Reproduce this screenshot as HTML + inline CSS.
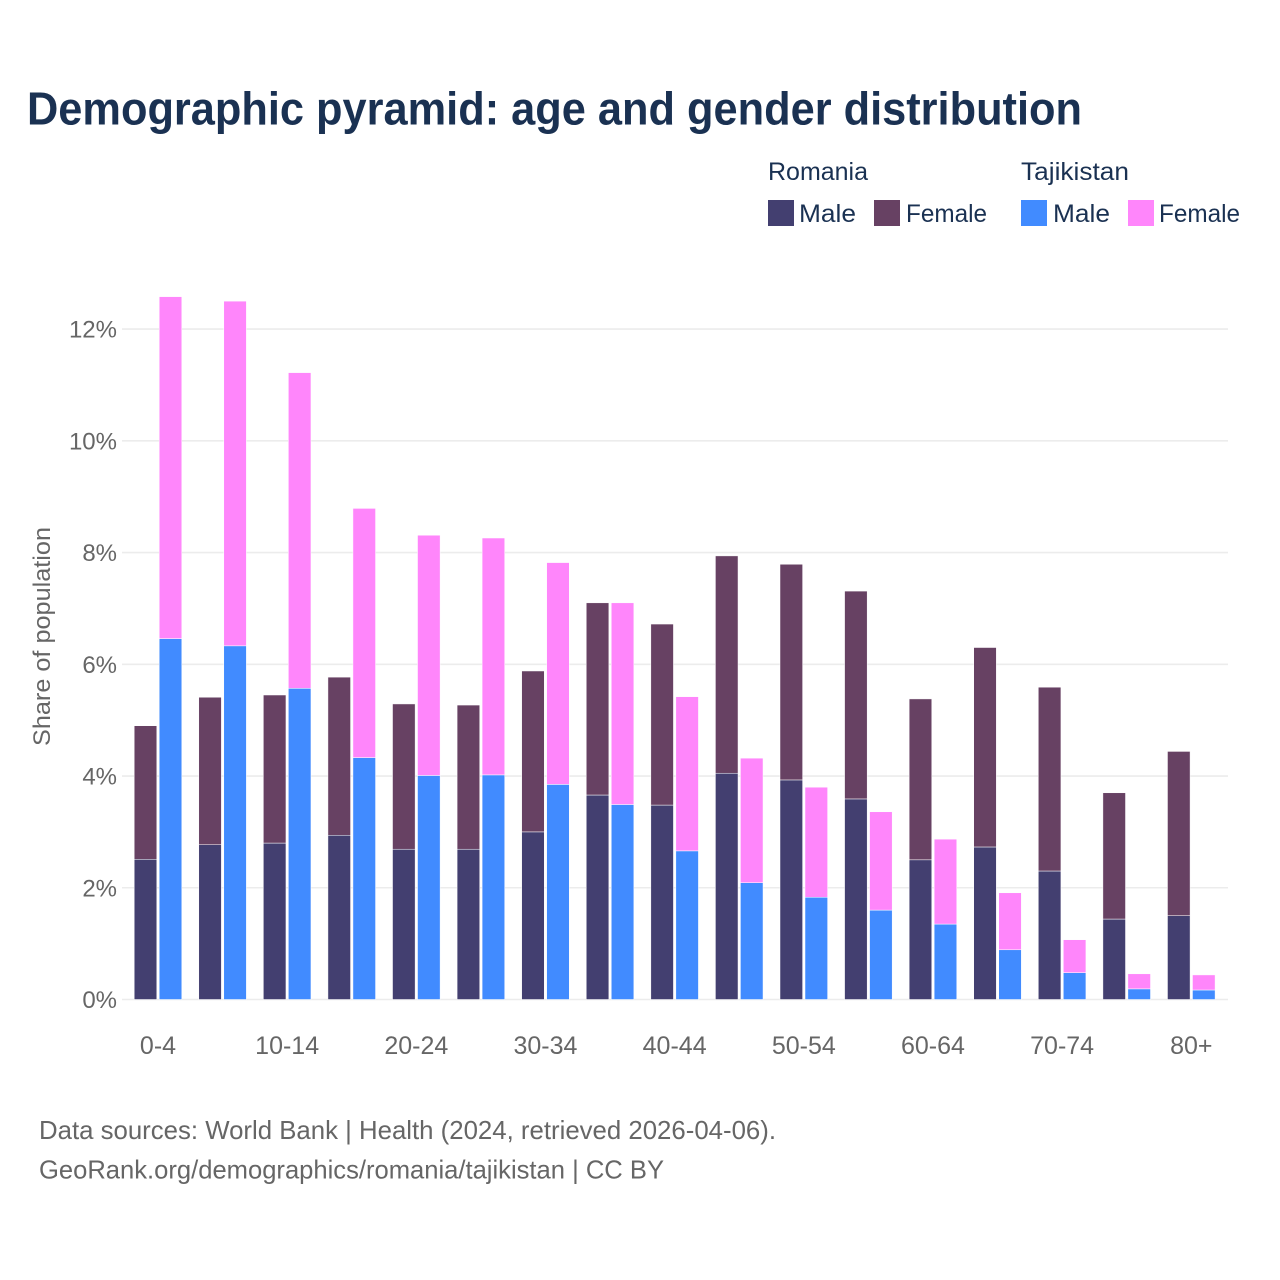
<!DOCTYPE html>
<html lang="en">
<head>
<meta charset="utf-8">
<title>Demographic pyramid</title>
<style>
html,body{margin:0;padding:0;background:#fff;}
svg{display:block;}
text{font-family:"Liberation Sans",sans-serif;}
.tick{font-size:24px;fill:#666;}
.leg{font-size:25px;fill:#1a3152;}
.src{font-size:26px;fill:#666;}
</style>
</head>
<body>
<svg id="chart" xmlns="http://www.w3.org/2000/svg" width="1280" height="1280" viewBox="0 0 1280 1280">
<rect width="1280" height="1280" fill="#fff"/>
<text x="27" y="124.5" font-size="46" font-weight="700" fill="#1a3152" textLength="1055" lengthAdjust="spacingAndGlyphs">Demographic pyramid: age and gender distribution</text>
<g>
<text class="leg" x="768" y="180" textLength="100" lengthAdjust="spacingAndGlyphs">Romania</text>
<text class="leg" x="1021" y="180" textLength="108" lengthAdjust="spacingAndGlyphs">Tajikistan</text>
<rect x="768" y="200" width="26" height="26" fill="#433f70"/>
<text class="leg" x="799" y="222" textLength="57" lengthAdjust="spacingAndGlyphs">Male</text>
<rect x="874" y="200" width="26" height="26" fill="#674163"/>
<text class="leg" x="906" y="222" textLength="81" lengthAdjust="spacingAndGlyphs">Female</text>
<rect x="1021" y="200" width="26" height="26" fill="#418bff"/>
<text class="leg" x="1053" y="222" textLength="57" lengthAdjust="spacingAndGlyphs">Male</text>
<rect x="1128" y="200" width="26" height="26" fill="#ff86fb"/>
<text class="leg" x="1159" y="222" textLength="81" lengthAdjust="spacingAndGlyphs">Female</text>
</g>
<text class="tick" transform="translate(50,636.5) rotate(-90)" text-anchor="middle" textLength="219" lengthAdjust="spacingAndGlyphs">Share of population</text>
<g id="grid"></g>
<g id="bars"></g>
<g id="xaxis"></g>
<text class="src" x="39" y="1139" textLength="737" lengthAdjust="spacingAndGlyphs">Data sources: World Bank | Health (2024, retrieved 2026-04-06).</text>
<text class="src" x="39" y="1178.5" textLength="625" lengthAdjust="spacingAndGlyphs">GeoRank.org/demographics/romania/tajikistan | CC BY</text>
</svg>
<script>
const categories = ["0-4","5-9","10-14","15-19","20-24","25-29","30-34","35-39","40-44","45-49","50-54","55-59","60-64","65-69","70-74","75-79","80+"];
const romaniaMale = [2.51,2.77,2.80,2.94,2.69,2.69,3.00,3.66,3.48,4.05,3.93,3.59,2.50,2.73,2.30,1.44,1.50];
const romaniaFemale = [2.39,2.64,2.65,2.83,2.60,2.58,2.88,3.44,3.24,3.89,3.86,3.72,2.88,3.57,3.29,2.26,2.94];
const tajikistanMale = [6.46,6.33,5.57,4.33,4.01,4.02,3.85,3.49,2.66,2.09,1.83,1.60,1.35,0.89,0.48,0.19,0.17];
const tajikistanFemale = [6.12,6.17,5.65,4.46,4.30,4.24,3.97,3.61,2.76,2.23,1.97,1.76,1.52,1.02,0.59,0.27,0.27];
const yTicks = [0,2,4,6,8,10,12];

const NS = "http://www.w3.org/2000/svg";
const y0 = 999.5, pxPerUnit = 55.87, xStart = 134.2, step = 64.58, barW = 22.6, barGap = 2.4;
const yScale = v => y0 - v * pxPerUnit;
const xScale = i => xStart + i * step;

function makeEl(tag, attrs, parent) {
  const el = document.createElementNS(NS, tag);
  for (const k in attrs) el.setAttribute(k, attrs[k]);
  parent.appendChild(el);
  return el;
}

const grid = document.getElementById("grid");
yTicks.forEach(t => {
  const line = makeEl("line", {x1:122, x2:1228, y1:yScale(t), y2:yScale(t), stroke:"#ececec", "stroke-width":1.6}, grid);
  
  
  const label = makeEl("text", {x:117, y:yScale(t)+8.5, "text-anchor":"end", class:"tick"}, grid);
  
  
  label.textContent = t + "%";
});

const bars = document.getElementById("bars");
function drawBar(x, base, value, fill) {
  const r = makeEl("rect", {x:x, y:yScale(base+value), width:barW, height:value*pxPerUnit, fill:fill, stroke:"#fff", "stroke-width":0.5}, bars);
  
  
}
categories.forEach((c, i) => {
  const xa = xScale(i), xb = xa + barW + barGap;
  drawBar(xa, 0, romaniaMale[i], "#433f70");
  drawBar(xa, romaniaMale[i], romaniaFemale[i], "#674163");
  drawBar(xb, 0, tajikistanMale[i], "#418bff");
  drawBar(xb, tajikistanMale[i], tajikistanFemale[i], "#ff86fb");
});

const xaxis = document.getElementById("xaxis");
categories.forEach((c, i) => {
  if (i % 2) return;
  const label = makeEl("text", {x:xScale(i)+barW+barGap/2, y:1054, "text-anchor":"middle", class:"tick", style:"font-size:25px"}, xaxis);
  
  
  label.textContent = c;
});
</script>
</body>
</html>
